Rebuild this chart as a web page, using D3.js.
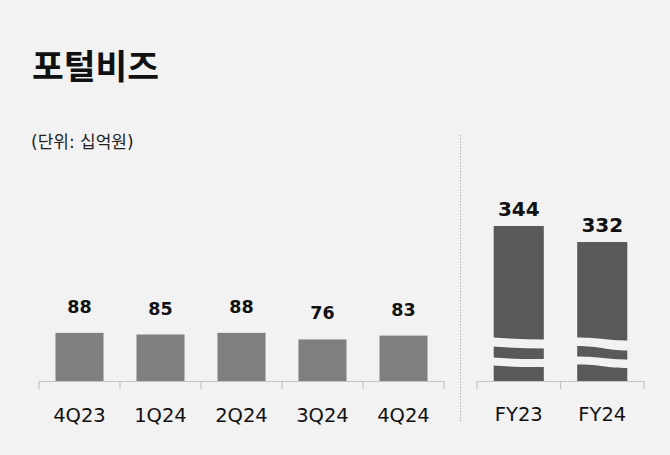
<!DOCTYPE html>
<html>
<head>
<meta charset="utf-8">
<script src="https://cdn.jsdelivr.net/npm/d3@7"></script>
<style>
  body { margin: 0; background: #f2f2f2; }
  svg { display: block; font-family: "DejaVu Sans", "Noto Sans CJK KR", sans-serif; }
</style>
</head>
<body>
<div id="chart"></div>
<script>
// quarterly values (십억원)
var quarters = ["4Q23", "1Q24", "2Q24", "3Q24", "4Q24"];
var quarterValues = [88, 85, 88, 76, 83];

// yearly values, drawn on a broken axis
var years = ["FY23", "FY24"];
var yearValues = [344, 332];

var width = 670, height = 455;
var baseY = 381;

var svg = d3.select("#chart")
	.append("svg")
	.attr("width", width)
	.attr("height", height)

svg.append("rect")
	.attr("width", width)
	.attr("height", height)
	.attr("fill", "#f2f2f2")

// title + unit
svg.append("text")
	.attr("x", 32)
	.attr("y", 79)
	.attr("font-size", 34.5)
	.attr("font-weight", 700)
	.attr("fill", "#111")
	.attr("font-family", "Noto Sans CJK KR")
	.text("포털비즈")

svg.append("text")
	.attr("x", 31)
	.attr("y", 148)
	.attr("font-size", 17)
	.attr("fill", "#222")
	.text("(단위: 십억원)")

// scales
var xQ = d3.scaleBand()
	.domain(quarters)
	.range([39, 444])
	.paddingInner(0.407)
	.paddingOuter(0.2035)

var yQ = d3.scaleLinear()
	.domain([0, 100])
	.range([baseY, baseY - 54.7])

var xY = d3.scaleBand()
	.domain(years)
	.range([477, 644])
	.paddingInner(0.4)
	.paddingOuter(0.2)

// broken scale: bar bottom stands for 228
var yY = d3.scaleLinear()
	.domain([228, 344])
	.range([baseY, 226])

// axes (line + ticks at band edges)
function drawAxis(x0, x1, edges) {
	var g = svg.append("g").attr("stroke", "#c4c4c4").attr("stroke-width", 1.2)
	g.append("line")
		.attr("x1", x0).attr("x2", x1)
		.attr("y1", baseY + 0.5).attr("y2", baseY + 0.5)
	g.selectAll("line.tick")
		.data(edges)
		.enter()
		.append("line")
		.attr("class", "tick")
		.attr("x1", d => d).attr("x2", d => d)
		.attr("y1", baseY).attr("y2", baseY + 8)
}

var qStep = xQ.step();
drawAxis(39, 444, d3.range(quarters.length + 1).map(i => 39 + i * qStep));
var yStep = xY.step();
drawAxis(477, 644, d3.range(years.length + 1).map(i => 477 + i * yStep));

// quarterly bars
svg.selectAll("rect.q")
	.data(quarters)
	.enter()
	.append("rect")
	.attr("class", "q")
	.attr("x", d => xQ(d))
	.attr("width", xQ.bandwidth())
	.attr("y", (d, i) => yQ(quarterValues[i]))
	.attr("height", (d, i) => baseY - yQ(quarterValues[i]))
	.attr("fill", "#7f7f7f")

svg.selectAll("text.qv")
	.data(quarters)
	.enter()
	.append("text")
	.attr("class", "qv")
	.attr("x", d => xQ(d) + xQ.bandwidth() / 2)
	.attr("y", (d, i) => yQ(quarterValues[i]) - 20)
	.attr("text-anchor", "middle")
	.attr("font-size", 17.5)
	.attr("font-weight", 700)
	.attr("fill", "#111")
	.text((d, i) => quarterValues[i])

svg.selectAll("text.ql")
	.data(quarters)
	.enter()
	.append("text")
	.attr("class", "ql")
	.attr("x", d => xQ(d) + xQ.bandwidth() / 2)
	.attr("y", 422)
	.attr("text-anchor", "middle")
	.attr("font-size", 19.5)
	.attr("fill", "#111")
	.text(d => d)

// yearly bars
svg.selectAll("rect.y")
	.data(years)
	.enter()
	.append("rect")
	.attr("class", "y")
	.attr("x", d => xY(d))
	.attr("width", xY.bandwidth())
	.attr("y", (d, i) => yY(yearValues[i]))
	.attr("height", (d, i) => baseY - yY(yearValues[i]))
	.attr("fill", "#595959")

// wavy break gaps, painted in background colour
function gapPath(x0, x1, topL, topR, botL, botR, s) {
	var w = x1 - x0;
	if (s) {
		return "M" + x0 + "," + topL +
			"C" + (x0 + w * 0.5) + "," + topL + " " + (x0 + w * 0.55) + "," + topR + " " + x1 + "," + topR +
			"L" + x1 + "," + botR +
			"C" + (x0 + w * 0.55) + "," + botR + " " + (x0 + w * 0.5) + "," + botL + " " + x0 + "," + botL + "Z";
	}
	return "M" + x0 + "," + topL +
		"Q" + (x0 + w * 0.5) + "," + (topL + 2) + " " + x1 + "," + topR +
		"L" + x1 + "," + botR +
		"Q" + (x0 + w * 0.5) + "," + (botL + 2) + " " + x0 + "," + botL + "Z";
}

years.forEach(function(d, i) {
	var x0 = xY(d) - 1, x1 = xY(d) + xY.bandwidth() + 1;
	var s = i === 1;
	var gaps = s
		? [[337.5, 340.5, 346, 350.5], [356.5, 359.5, 364.5, 368]]
		: [[337.5, 339.5, 346.5, 348.5], [357.5, 359, 365.5, 367]];
	gaps.forEach(function(g) {
		svg.append("path")
			.attr("d", gapPath(x0, x1, g[0], g[1], g[2], g[3], s))
			.attr("fill", "#f2f2f2")
	})
})

svg.selectAll("text.yv")
	.data(years)
	.enter()
	.append("text")
	.attr("class", "yv")
	.attr("x", d => xY(d) + xY.bandwidth() / 2)
	.attr("y", (d, i) => yY(yearValues[i]) - 10.5)
	.attr("text-anchor", "middle")
	.attr("font-size", 20)
	.attr("font-weight", 700)
	.attr("fill", "#111")
	.text((d, i) => yearValues[i])

svg.selectAll("text.yl")
	.data(years)
	.enter()
	.append("text")
	.attr("class", "yl")
	.attr("x", d => xY(d) + xY.bandwidth() / 2)
	.attr("y", 421)
	.attr("text-anchor", "middle")
	.attr("font-size", 19.5)
	.attr("fill", "#111")
	.text(d => d)

// dotted divider
svg.append("line")
	.attr("x1", 460.5).attr("x2", 460.5)
	.attr("y1", 135).attr("y2", 422)
	.attr("stroke", "#b0b0b0")
	.attr("stroke-width", 1)
	.attr("stroke-dasharray", "1.5,1.5")
</script>
</body>
</html>
